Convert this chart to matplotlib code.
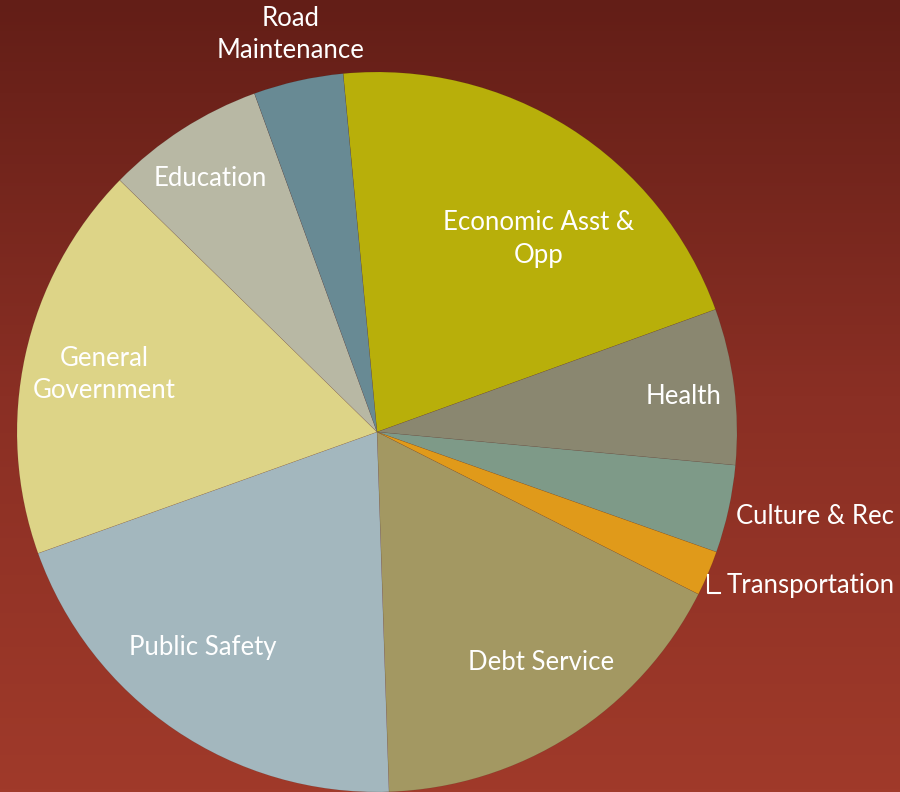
import numpy as np
import matplotlib.pyplot as plt
from matplotlib.colors import LinearSegmentedColormap

# budget shares (percent), clockwise from the top
categories = ["Economic Asst &\nOpp", "Health", "Culture & Rec", "Transportation",
              "Debt Service", "Public Safety", "General\nGovernment", "Education",
              "Road\nMaintenance"]
shares = [20.97, 7.0, 3.94, 2.03, 17.03, 20.06, 17.8, 7.14, 4.03]
colors = ["#B8AF0A", "#8A8770", "#7E9A88", "#E09A1A", "#A39862",
          "#A3B7BE", "#DDD487", "#B8B8A4", "#688A94"]

# label anchor points (pixels from top-left)
label_pos = [(539, 239), (684, 397), (815, 516), (811, 585), (541, 662),
             (203, 648), (104, 374), (210, 178), (291, 35)]

fig = plt.figure(figsize=(9, 7.92), dpi=100)

# gradient background
bg = fig.add_axes([0, 0, 1, 1])
grad = np.linspace(0, 1, 256).reshape(-1, 1)
cmap = LinearSegmentedColormap.from_list("bg", ["#631E17", "#8A2F24", "#A03A2A"])
bg.imshow(grad, aspect="auto", cmap=cmap, extent=[0, 1, 0, 1], origin="upper")
bg.axis("off")

ax = fig.add_axes([0, 0, 1, 1])
ax.patch.set_alpha(0)

ax.pie(shares, colors=colors, center=(377, 360), radius=360,
       startangle=95.4, counterclock=False, frame=True,
       wedgeprops=dict(linewidth=0.3, edgecolor="#00000025"))
ax.set_xlim(0, 900)
ax.set_ylim(0, 792)
ax.set_aspect("equal")
ax.axis("off")

for name, (x, y) in zip(categories, label_pos):
    ax.text(x, 792 - y, name, color="white", fontsize=18.5, family="Lato",
            ha="center", va="center", linespacing=1.35)

# leader mark for the thin Transportation slice
ax.plot([708, 708, 720], [792 - 575, 792 - 593, 792 - 593], color="white", lw=1.5)

fig.savefig("out.png", dpi=100)
